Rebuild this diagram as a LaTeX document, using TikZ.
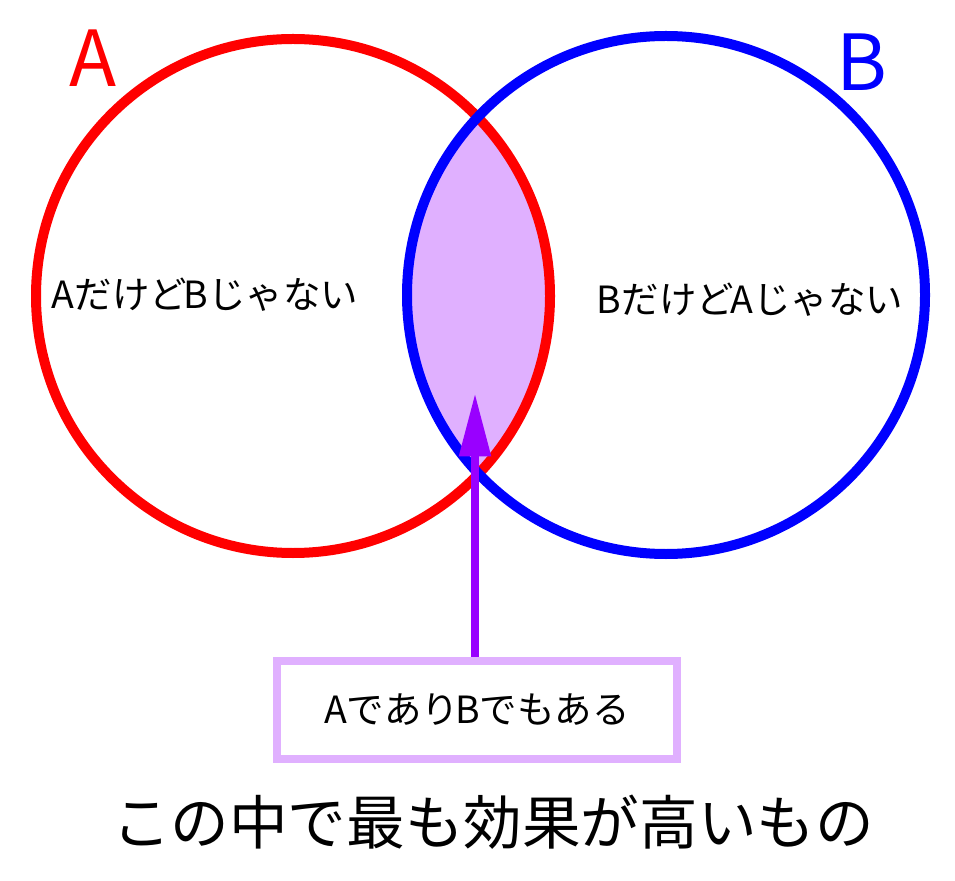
\documentclass[tikz,border=0pt]{standalone}
\usepackage{fontspec}
\setmainfont{Noto Sans CJK JP}
\usetikzlibrary{arrows.meta}
\definecolor{lav}{HTML}{E0B0FF}
\definecolor{purp}{HTML}{9900FF}
\begin{document}
\begin{tikzpicture}[x=0.03cm,y=-0.03cm,
  lbl/.style={font=\fontsize{32}{36}\selectfont},
  big/.style={font=\fontsize{66}{72}\selectfont}]
\useasboundingbox (0,0) rectangle (955,881);
\begin{scope}
  \clip (293,296) circle[radius=257];
  \fill[lav] (666,295) circle[radius=259];
\end{scope}
\draw[red,line width=0.3cm] (293,296) circle[radius=257] coordinate (ca);
\draw[blue,line width=0.3cm] (666,295) circle[radius=259] coordinate (cb);
\node[big,red] (la) at (93,58) {A};
\node[big,blue] (lb) at (862,62) {B};
\node[lbl] (ta) at (205,295) {Aだけど\hspace{-0.1em}Bじゃない};
\node[lbl] (tb) at (750,300) {Bだけど\hspace{-0.1em}Aじゃない};
\node[lbl,draw=lav,line width=0.25cm,minimum width=400*0.03cm,minimum height=98*0.03cm] (box) at (477,710) {Aであり\hspace{-0.1em}Bでもある};
\coordinate (tip) at (475,393);
\draw[purp,line width=0.25cm,-{Triangle[length=1.9cm,width=0.9cm]}] (box.north -| tip) -- (tip);
\node[font=\fontsize{50}{56}\selectfont] (bt) at (493,822) {この中で最も効果が高いもの};
\end{tikzpicture}
\end{document}
